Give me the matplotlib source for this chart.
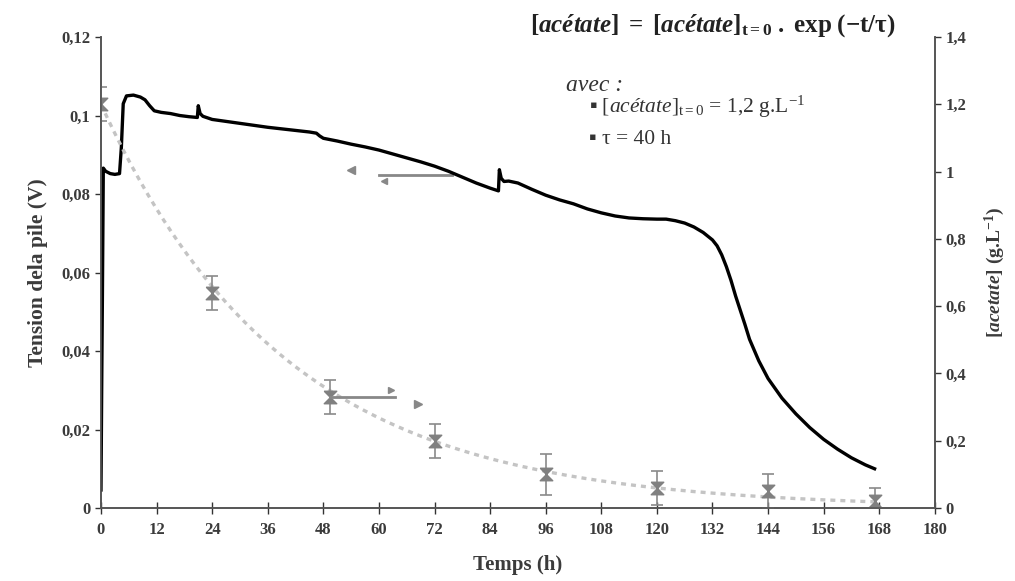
import numpy as np
import matplotlib.pyplot as plt
from matplotlib.path import Path

plt.rcParams['font.family'] = ['Liberation Serif', 'DejaVu Serif']
plt.rcParams['mathtext.fontset'] = 'custom'
plt.rcParams['mathtext.rm'] = 'Liberation Serif'
plt.rcParams['mathtext.it'] = 'Liberation Serif:italic'
plt.rcParams['mathtext.bf'] = 'Liberation Serif:bold'
plt.rcParams['mathtext.bfit'] = 'Liberation Serif:bold:italic'

# tension de la pile (V) en fonction du temps (h)
temps_v = [0, 0.15, 0.3, 0.5, 1, 2, 3, 4, 4.4, 4.8, 5.5, 7, 8.5, 9.5, 10.5, 11.5, 13, 15, 17,
           19, 20.8, 21.0, 21.4, 22, 24, 27, 30, 33, 36, 39, 42, 45, 46.5, 47.2, 48, 51, 54,
           57, 60, 63, 66, 69, 72, 75, 78, 81, 84, 85.8, 86.0, 86.4, 87, 88, 90, 93, 96, 99,
           102, 105, 108, 111, 114, 117, 120, 122, 124, 126, 128, 130, 132, 133, 134, 135,
           136, 137, 138, 139, 140, 142, 144, 147, 150, 153, 156, 159, 162, 165, 167]
tension = [0.0046, 0.03, 0.053, 0.0866, 0.0858, 0.0852, 0.0850, 0.0852, 0.092, 0.1030, 0.1050,
           0.1052, 0.1047, 0.1040, 0.1025, 0.1012, 0.1008, 0.1005, 0.1000, 0.0997, 0.0995,
           0.1025, 0.1005, 0.0998, 0.0990, 0.0985, 0.0980, 0.0975, 0.0970, 0.0966, 0.0962,
           0.0958, 0.0955, 0.0948, 0.0942, 0.0935, 0.0927, 0.0920, 0.0912, 0.0902, 0.0892,
           0.0882, 0.0871, 0.0858, 0.0843, 0.0828, 0.0815, 0.0808, 0.0862, 0.0840, 0.0832,
           0.0833, 0.0828, 0.0812, 0.0797, 0.0785, 0.0775, 0.0762, 0.0752, 0.0744, 0.0739,
           0.0737, 0.0736, 0.0736, 0.0732, 0.0726, 0.0716, 0.0702, 0.0683, 0.0668, 0.0645,
           0.0615, 0.0580, 0.0540, 0.0504, 0.0468, 0.0430, 0.0375, 0.0330, 0.0280, 0.0240,
           0.0205, 0.0175, 0.0150, 0.0128, 0.0110, 0.0100]

# concentration en acétate (g/L) mesurée
temps_ac = [0, 24, 49.5, 72, 96, 120, 144, 167]
acetate = [1.20, 0.64, 0.33, 0.20, 0.10, 0.06, 0.05, 0.02]
erreur = [0.05, 0.05, 0.05, 0.05, 0.06, 0.05, 0.05, 0.04]

# modèle exponentiel
c0 = 1.2
tau = 40
t_modele = np.linspace(0, 168, 300)
c_modele = c0 * np.exp(-t_modele / tau)

x_ticks = list(range(0, 181, 12))
y_gauche = [0, 0.02, 0.04, 0.06, 0.08, 0.1, 0.12]
y_gauche_lab = ['0', '0,02', '0,04', '0,06', '0,08', '0,1', '0,12']
y_droite = [0, 0.2, 0.4, 0.6, 0.8, 1.0, 1.2, 1.4]
y_droite_lab = ['0', '0,2', '0,4', '0,6', '0,8', '1', '1,2', '1,4']

txt = '#3b3b3b'

fig = plt.figure(figsize=(10.15, 5.81), dpi=100)
ax = fig.add_axes([0.0995, 0.1256, 0.8215, 0.8107])
ax2 = ax.twinx()

ax.plot(temps_v, tension, color='black', lw=2.4, zorder=3)

ax2.plot(t_modele, c_modele, color='#c4c4c4', lw=2.4, ls=(0, (1.5, 1.5)), zorder=1)
sablier = Path([(-1, 1), (1, 1), (-1, -1), (1, -1), (-1, 1)])
ax2.errorbar(temps_ac, acetate, yerr=erreur, fmt='none', ecolor='#8a8a8a', elinewidth=1.2,
             capsize=4, capthick=1.2, zorder=2)
ax2.plot(temps_ac, acetate, ls='none', marker=sablier, ms=9, color='#808080', zorder=2)

# flèches indiquant les axes
ax.plot([60, 75.7], [0.0848, 0.0848], color='#888888', lw=2, zorder=2)
ax.plot([54], [0.0862], marker='<', ms=6, color='#888888', ls='none')
ax.plot([61.2], [0.0832], marker='<', ms=5, color='#888888', ls='none')
ax2.plot([49.4, 63.5], [0.331, 0.331], color='#888888', lw=2, zorder=2)
ax2.plot([62.5], [0.352], marker='>', ms=5, color='#888888', ls='none')
ax2.plot([68.5], [0.310], marker='>', ms=6, color='#888888', ls='none')

ax.set_xlim(0, 180)
ax.set_ylim(0, 0.12)
ax2.set_ylim(0, 1.4)

ax.set_xticks(x_ticks)
ax.set_xticklabels([str(x) for x in x_ticks])
ax.set_yticks(y_gauche)
ax.set_yticklabels(y_gauche_lab)
ax2.set_yticks(y_droite)
ax2.set_yticklabels(y_droite_lab)

for a in (ax, ax2):
    a.spines['top'].set_visible(False)
    for s in a.spines.values():
        s.set_color('#555555')
        s.set_linewidth(1.2)
    for lab in a.get_xticklabels() + a.get_yticklabels():
        lab.set_fontweight('bold')
        lab.set_fontsize(12)
        lab.set_color(txt)
ax.tick_params(axis='x', direction='inout', length=8, width=1, color='#333333', pad=6)
ax.tick_params(axis='y', direction='out', length=4, width=1, color='#333333')
ax2.tick_params(axis='y', direction='out', length=4, width=1, color='#333333')

ax.set_xlabel('Temps (h)', fontsize=15, fontweight='bold', color=txt, labelpad=12)
ax.set_ylabel('Tension dela pile (V)', fontsize=15.5, fontweight='bold', color=txt, labelpad=10)
ax2.set_ylabel(r'[$\mathbfit{acetate}$] (g.L$^{\mathbf{-1}}$)', fontsize=14,
               fontweight='bold', color=txt, labelpad=12)

fig.text(0.522, 0.945, r'$\mathbf{[}\mathbfit{acétate}\mathbf{]\ =\ [}\mathbfit{acétate}'
         r'\mathbf{]}_{\mathbf{t=0}}\mathbf{\ .\ exp\ (-t/\tau)}$',
         fontsize=18, color='#222222')
fig.text(0.558, 0.843, 'avec :', fontsize=17, style='italic', color='#333333')
fig.text(0.580, 0.805, r'▪ [$\mathit{acétate}$]$_{\mathrm{t=0}}$ = 1,2 g.L$^{\mathrm{-1}}$',
         fontsize=15.5, color='#333333')
fig.text(0.580, 0.752, '▪ τ = 40 h', fontsize=15.5, color='#333333')

fig.savefig('out.png', dpi=100)
